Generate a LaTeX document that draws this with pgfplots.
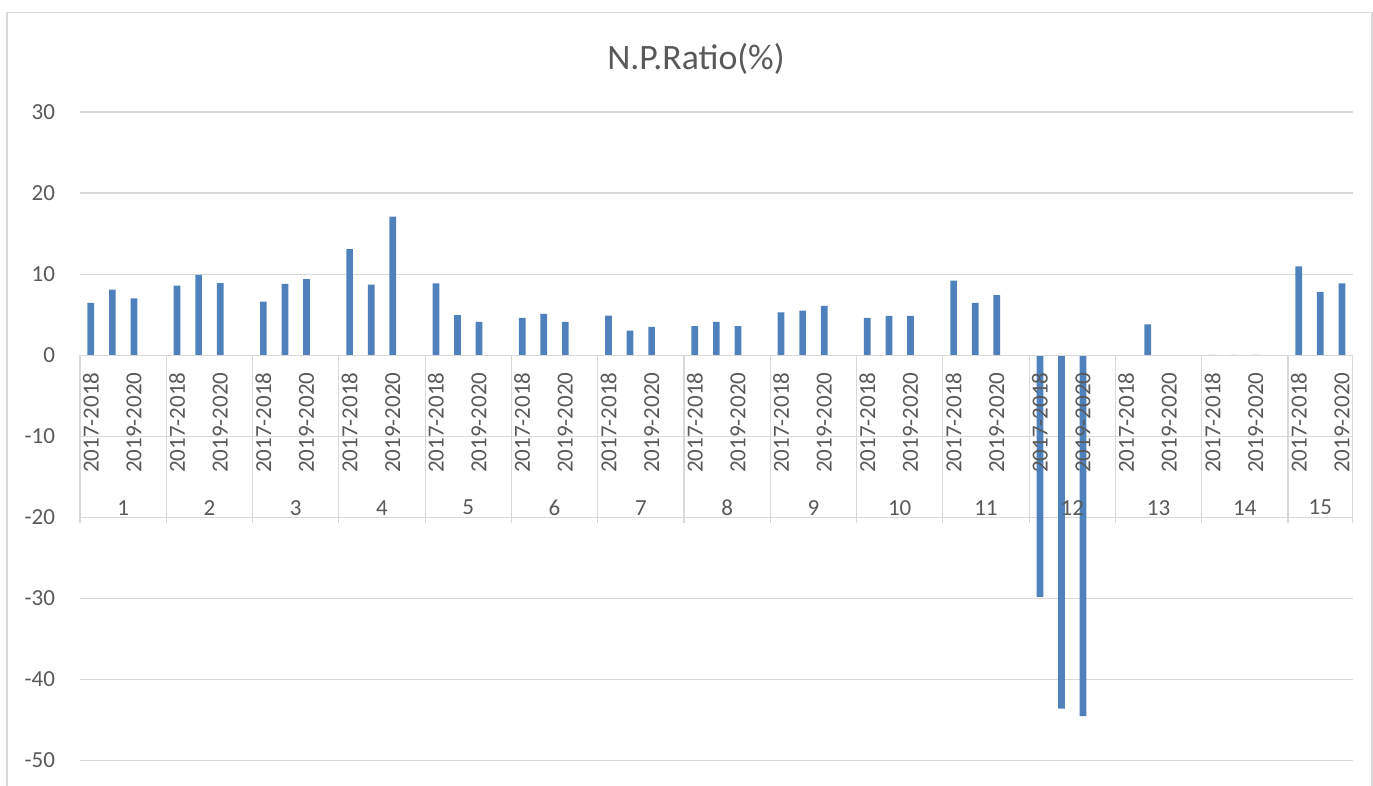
\documentclass[border=0pt]{standalone}
\usepackage{fontspec}
\setmainfont{Carlito}
\usepackage{pgfplots}
\pgfplotsset{compat=1.18}
\definecolor{barblue}{HTML}{4F81BD}
\definecolor{gridgray}{HTML}{D9D9D9}
\definecolor{txtgray}{HTML}{595959}
\begin{document}
\begin{tikzpicture}
\useasboundingbox (0,0) rectangle (549.2pt,314pt);
\draw[gridgray, line width=0.5pt] (2.8pt,-2pt) -- (2.8pt,308.9pt) -- (548.8pt,308.9pt) -- (548.8pt,-2pt);
\node[anchor=base, text=txtgray, font=\fontsize{14.3}{17}\selectfont, inner sep=0pt] at (278.4pt,286pt) {N.P.Ratio(\%)};
\begin{axis}[
  at={(32pt,9.76pt)}, anchor=south west,
  scale only axis, width=509.08pt, height=259.44pt,
  xmin=-0.5, xmax=58.5, ymin=-50, ymax=30,
  ytick={-50,-40,...,30}, xtick=\empty,
  ymajorgrids, grid style={gridgray, line width=0.5pt},
  axis line style={draw=none},
  major tick length=0pt,
  /pgf/number format/assume math mode=true,
  yticklabel style={text=txtgray, font=\fontsize{9.2}{11}\selectfont, inner sep=0pt, xshift=-9.8pt},
  ybar, bar width=2.68pt, bar shift=0pt,
  clip=false,
]
\addplot[fill=barblue, draw=none] table[x=x, y=y] {
x y
0 6.45
1 8.1
2 7.0
4 8.6
5 9.9
6 8.9
8 6.6
9 8.8
10 9.4
12 13.1
13 8.7
14 17.1
16 8.85
17 4.95
18 4.1
20 4.6
21 5.1
22 4.1
24 4.9
25 3.05
26 3.5
28 3.6
29 4.1
30 3.6
32 5.3
33 5.5
34 6.1
36 4.6
37 4.85
38 4.85
40 9.2
41 6.45
42 7.4
44 -29.8
45 -43.6
46 -44.5
48 0
49 3.8
50 0
52 0.05
53 0.05
54 0.05
56 10.95
57 7.8
58 8.85
};
\draw[gridgray, line width=0.55pt] (axis cs:-0.5,0) -- (axis cs:58.5,0);
\pgfplotsinvokeforeach{-0.5,3.5,...,55.5}{
  \draw[gridgray, line width=0.5pt] (axis cs:#1,0) -- (axis cs:#1,-20.7);
}
\draw[gridgray, line width=0.5pt] (axis cs:58.5,0) -- (axis cs:58.5,-20.7);
\pgfplotsinvokeforeach{0,4,...,56}{
  \node[rotate=90, anchor=east, inner sep=0pt, text=txtgray, font=\fontsize{9.2}{11}\selectfont] at (axis cs:#1,-2.07) {2017-2018};
}
\pgfplotsinvokeforeach{2,6,...,58}{
  \node[rotate=90, anchor=east, inner sep=0pt, text=txtgray, font=\fontsize{9.2}{11}\selectfont] at (axis cs:#1,-2.07) {2019-2020};
}
\pgfplotsinvokeforeach{1,...,14}{
  \node[inner sep=0pt, text=txtgray, font=\fontsize{9.2}{11}\selectfont] at (axis cs:{4*#1-2.5},-18.8) {#1};
}
\node[inner sep=0pt, text=txtgray, font=\fontsize{9.2}{11}\selectfont] at (axis cs:57,-18.8) {15};
\end{axis}
\end{tikzpicture}
\end{document}
